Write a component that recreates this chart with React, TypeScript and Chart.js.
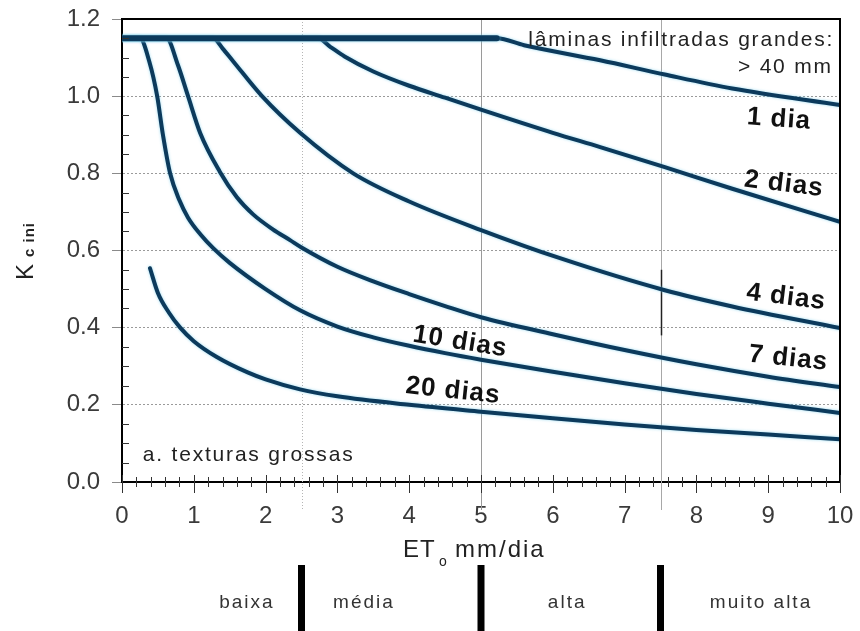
import { useEffect, useRef } from "react";
import { Chart, registerables } from "chart.js";

Chart.register(...registerables);

// ---- data ----
const flatX = [0, 5.22];
const flatY = [1.15, 1.15];

const dia1X = [0, 5.22, 5.6, 6.66, 7.56, 8.5, 10];
const dia1Y = [1.15, 1.15, 1.132, 1.093, 1.056, 1.02, 0.977];

const dia2X = [0, 2.73, 2.9, 3.1, 3.5, 4.0, 4.5, 5.0, 6.0, 6.66, 7.56, 8.5, 10];
const dia2Y = [1.15, 1.15, 1.128, 1.103, 1.064, 1.027, 0.996, 0.965, 0.905, 0.868, 0.816, 0.76, 0.674];

const dia4X = [0, 1.27, 1.4, 1.55, 1.95, 2.48, 3.22, 4.0, 5.0, 6.1, 7.56, 8.5, 10];
const dia4Y = [1.15, 1.15, 1.124, 1.09, 1.0, 0.905, 0.8, 0.727, 0.653, 0.58, 0.497, 0.455, 0.399];

const dia7X = [0, 0.62, 0.78, 0.92, 1.09, 1.36, 1.6, 1.83, 2.1, 2.34, 2.5, 3.0, 3.5, 4.0, 4.5, 5.0, 6.0, 7.0, 8.0, 9.0, 10];
const dia7Y = [1.15, 1.15, 1.08, 1.0, 0.904, 0.805, 0.738, 0.693, 0.655, 0.627, 0.608, 0.558, 0.52, 0.487, 0.456, 0.427, 0.383, 0.342, 0.305, 0.273, 0.246];

const dia10X = [0, 0.25, 0.38, 0.49, 0.57, 0.67, 0.8, 0.92, 1.1, 1.27, 1.5, 2.0, 2.48, 3.0, 3.5, 4.0, 4.5, 5.0, 6.0, 7.0, 8.0, 9.0, 10];
const dia10Y = [1.15, 1.15, 1.09, 1.0, 0.9, 0.8, 0.73, 0.685, 0.64, 0.606, 0.568, 0.5, 0.445, 0.403, 0.375, 0.353, 0.334, 0.317, 0.286, 0.256, 0.228, 0.203, 0.179];

const dia20X = [0.39, 0.5, 0.65, 0.81, 1.0, 1.32, 1.75, 2.0, 2.48, 3.0, 4.0, 5.0, 6.0, 7.0, 8.0, 9.0, 10];
const dia20Y = [0.554, 0.49, 0.44, 0.4, 0.365, 0.324, 0.284, 0.266, 0.24, 0.222, 0.2, 0.182, 0.165, 0.149, 0.135, 0.123, 0.111];

const curveLabels = ["1 dia", "2 dias", "4 dias", "7 dias", "10 dias", "20 dias"];
const curveLabelX = [9.15, 9.22, 9.25, 9.28, 4.71, 4.61];
const curveLabelY = [0.94, 0.772, 0.479, 0.32, 0.363, 0.236];
const curveLabelAngle = [4, 7, 7, 6, 9, 6];

const classNames = ["baixa", "média", "alta", "muito alta"];
const classCenters = [1.74, 3.37, 6.2, 8.9];
const classBounds = [2.5, 5, 7.5];

const xMin = 0;
const xMax = 10;
const yMin = 0;
const yMax = 1.2;

const LINE = "#0c3a5c";
const FONT = "'Liberation Sans', Arial, sans-serif";

function pts(xs: number[], ys: number[]) {
  return xs.map((x, i) => ({ x, y: ys[i] }));
}

const decorPlugin = {
  id: "decor",
  beforeDatasetsDraw(chart: any) {
    const { ctx, chartArea, scales } = chart;
    const xs = scales.x;
    ctx.save();
    const lines = [
      { v: 2.5, color: "#b5b5b5", dash: [1, 2] },
      { v: 5, color: "#9a9a9a", dash: [] },
      { v: 7.5, color: "#a8a8a8", dash: [] },
    ];
    for (const l of lines) {
      const px = Math.round(xs.getPixelForValue(l.v)) + 0.5;
      ctx.beginPath();
      ctx.setLineDash(l.dash);
      ctx.strokeStyle = l.color;
      ctx.lineWidth = 1;
      ctx.moveTo(px, chartArea.top);
      ctx.lineTo(px, chartArea.bottom + 28);
      ctx.stroke();
    }
    ctx.setLineDash([]);
    const p75 = Math.round(xs.getPixelForValue(7.5)) + 0.5;
    ctx.beginPath();
    ctx.strokeStyle = "#222";
    ctx.lineWidth = 1.5;
    ctx.moveTo(p75, scales.y.getPixelForValue(0.55));
    ctx.lineTo(p75, scales.y.getPixelForValue(0.38));
    ctx.stroke();
    ctx.restore();

    ctx.save();
    ctx.shadowColor = "rgba(120,205,235,0.75)";
    ctx.shadowBlur = 3;
  },
  afterDatasetsDraw(chart: any) {
    chart.ctx.restore();
  },
  afterDraw(chart: any) {
    const { ctx, chartArea, scales } = chart;
    const xs = scales.x;
    const ys = scales.y;
    ctx.save();
    ctx.strokeStyle = "#000";
    ctx.lineWidth = 2;
    ctx.beginPath();
    ctx.moveTo(chartArea.left - 1, chartArea.top);
    ctx.lineTo(chartArea.right, chartArea.top);
    ctx.lineTo(chartArea.right, chartArea.bottom);
    ctx.stroke();

    ctx.lineWidth = 1;
    ctx.strokeStyle = "#333";
    const b = chartArea.bottom;
    for (let i = 0; i <= 50; i++) {
      const v = i * 0.2;
      const px = Math.round(xs.getPixelForValue(v)) + 0.5;
      const major = i % 5 === 0;
      ctx.beginPath();
      ctx.moveTo(px, major ? b - 7 : b - 5);
      ctx.lineTo(px, major ? b + 11 : b + 5);
      ctx.stroke();
    }
    const l = chartArea.left;
    for (let i = 1; i < 24; i++) {
      if (i % 4 === 0) continue;
      const v = i * 0.05;
      const py = Math.round(ys.getPixelForValue(v)) + 0.5;
      ctx.beginPath();
      ctx.moveTo(l, py);
      ctx.lineTo(l + 7, py);
      ctx.stroke();
    }

    ctx.fillStyle = "#111";
    ctx.font = `bold 26px ${FONT}`;
    ctx.textAlign = "center";
    ctx.textBaseline = "middle";
    (ctx as any).letterSpacing = "1px";
    curveLabels.forEach((t, i) => {
      ctx.save();
      ctx.translate(xs.getPixelForValue(curveLabelX[i]), ys.getPixelForValue(curveLabelY[i]));
      ctx.rotate((curveLabelAngle[i] * Math.PI) / 180);
      ctx.fillText(t, 0, 0);
      ctx.restore();
    });

    ctx.fillStyle = "#222";
    ctx.font = `21px ${FONT}`;
    (ctx as any).letterSpacing = "1.8px";
    ctx.textAlign = "right";
    ctx.fillText("lâminas infiltradas grandes:", xs.getPixelForValue(9.92), ys.getPixelForValue(1.145));
    ctx.fillText("> 40 mm", xs.getPixelForValue(9.9), ys.getPixelForValue(1.075));
    ctx.textAlign = "left";
    ctx.fillText("a. texturas grossas", xs.getPixelForValue(0.29), ys.getPixelForValue(0.07));

    ctx.fillStyle = "#222";
    ctx.textBaseline = "alphabetic";
    ctx.font = `24px ${FONT}`;
    (ctx as any).letterSpacing = "1px";
    ctx.fillText("ET", 403, 557);
    ctx.font = `14px ${FONT}`;
    (ctx as any).letterSpacing = "0px";
    ctx.fillText("o", 439, 566);
    ctx.font = `24px ${FONT}`;
    (ctx as any).letterSpacing = "2px";
    ctx.fillText("mm/dia", 455, 557);

    ctx.save();
    ctx.translate(33, 280);
    ctx.rotate(-Math.PI / 2);
    ctx.font = `24px ${FONT}`;
    (ctx as any).letterSpacing = "0px";
    ctx.fillText("K", 0, 0);
    ctx.font = `bold 15px ${FONT}`;
    (ctx as any).letterSpacing = "1px";
    ctx.fillText("c ini", 23, 1);
    ctx.restore();

    ctx.fillStyle = "#000";
    for (const v of classBounds) {
      const px = xs.getPixelForValue(v);
      ctx.fillRect(px - 3.5, 565, 7, 70);
    }
    ctx.fillStyle = "#333";
    ctx.font = `19px ${FONT}`;
    (ctx as any).letterSpacing = "2px";
    ctx.textAlign = "center";
    ctx.textBaseline = "middle";
    classNames.forEach((t, i) => {
      ctx.fillText(t, xs.getPixelForValue(classCenters[i]), 603);
    });
    ctx.restore();
  },
};

export default function App() {
  const ref = useRef<HTMLCanvasElement>(null);
  useEffect(() => {
    if (!ref.current) return;
    const mk = (xs: number[], ys: number[], w = 4) => ({
      data: pts(xs, ys),
      borderColor: LINE,
      borderWidth: w,
      pointRadius: 0,
      fill: false,
      cubicInterpolationMode: "monotone" as const,
      borderCapStyle: "round" as const,
    });
    const chart = new Chart(ref.current, {
      type: "line",
      data: {
        datasets: [
          mk(flatX, flatY, 6),
          mk(dia1X, dia1Y),
          mk(dia2X, dia2Y),
          mk(dia4X, dia4Y),
          mk(dia7X, dia7Y),
          mk(dia10X, dia10Y),
          mk(dia20X, dia20Y),
        ],
      },
      plugins: [decorPlugin],
      options: {
        responsive: false,
        animation: false,
        events: [],
        layout: { padding: { top: 19, right: 20, left: 0, bottom: 0 } },
        plugins: { legend: { display: false }, tooltip: { enabled: false } },
        scales: {
          x: {
            type: "linear",
            min: xMin,
            max: xMax,
            ticks: {
              stepSize: 1,
              color: "#3a3a3a",
              font: { family: FONT, size: 24 },
              padding: 10,
              maxRotation: 0,
            },
            grid: { display: true, drawOnChartArea: false, drawTicks: true, tickLength: 10, tickColor: "rgba(0,0,0,0)" },
            border: { display: true, color: "#000", width: 2 },
            afterFit: (s: any) => {
              s.height = 149;
              s.paddingLeft = 0;
              s.paddingRight = 0;
            },
          },
          y: {
            type: "linear",
            min: yMin,
            max: yMax,
            ticks: {
              stepSize: 0.2,
              color: "#3a3a3a",
              font: { family: FONT, size: 24 },
              padding: 12,
              callback: (v: any) => Number(v).toFixed(1),
            },
            grid: { color: "#9a9a9a", lineWidth: 1, tickLength: 10, tickColor: "#8a8a8a" },
            border: { display: true, color: "#000", width: 2, dash: [2, 2] },
            afterFit: (s: any) => {
              s.width = 122;
              s.paddingTop = 0;
              s.paddingBottom = 0;
            },
          },
        },
      },
    });
    return () => chart.destroy();
  }, []);
  return (
    <div style={{ position: "absolute", left: 0, top: 0, width: 860, height: 631, background: "#fff" }}>
      <canvas ref={ref} width={860} height={631} style={{ display: "block" }} />
    </div>
  );
}
